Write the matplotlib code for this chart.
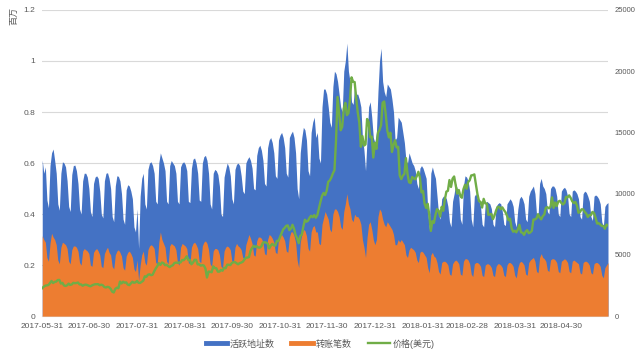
import numpy as np
import pandas as pd
import matplotlib
matplotlib.use("Agg")
import matplotlib.pyplot as plt
from matplotlib.lines import Line2D

plt.rcParams['font.family'] = ['Liberation Sans', 'Noto Sans CJK SC', 'DejaVu Sans']

start_date = "2017-05-31"

# active addresses, thousands per day (one row per week, Wed..Tue)
active_k = [
    612, 560, 585, 455, 425, 590, 640,
    655, 610, 560, 440, 415, 560, 605,
    600, 585, 530, 430, 410, 555, 590,
    592, 570, 520, 420, 400, 530, 560,
    560, 545, 500, 410, 390, 520, 545,
    550, 540, 490, 400, 385, 530, 560,
    562, 540, 500, 390, 370, 510, 550,
    548, 530, 480, 380, 360, 495, 515,
    510, 490, 460, 350, 330, 420, 265,
    470, 540, 560, 440, 420, 575, 600,
    605, 590, 560, 450, 440, 600, 640,
    620, 600, 570, 450, 440, 590, 610,
    600, 590, 560, 450, 440, 585, 600,
    605, 595, 570, 450, 445, 580, 615,
    620, 600, 560, 455, 450, 600, 625,
    630, 610, 560, 440, 420, 560, 575,
    570, 555, 510, 400, 390, 545, 575,
    600, 585, 550, 460, 440, 575, 595,
    600, 590, 550, 490, 480, 600, 615,
    625, 610, 580, 500, 495, 630, 660,
    670, 650, 610, 520, 510, 660, 690,
    700, 680, 640, 550, 540, 690, 710,
    720, 700, 660, 560, 545, 700, 715,
    725, 700, 640, 500, 460, 640, 700,
    740, 730, 690, 570, 550, 720, 760,
    780, 700, 720, 620, 600, 820, 890,
    890, 870, 820, 760, 740, 900, 960,
    950, 920, 870, 820, 800, 960, 1000,
    1070, 960, 920, 840, 830, 900, 870,
    870, 850, 820, 700, 650, 570, 700,
    820, 840, 780, 700, 680, 720, 880,
    1000, 1050, 920, 880, 860, 910, 900,
    890, 850, 800, 690, 700, 780, 770,
    760, 720, 680, 610, 600, 640, 620,
    600, 590, 570, 520, 500, 580, 590,
    580, 560, 540, 420, 340, 560, 585,
    560, 540, 470, 400, 380, 460, 470,
    470, 460, 430, 370, 350, 450, 480,
    520, 500, 470, 380, 360, 510, 550,
    545, 530, 490, 380, 350, 470, 480,
    460, 450, 430, 360, 350, 440, 450,
    445, 440, 420, 360, 350, 430, 440,
    445, 440, 410, 360, 355, 440, 450,
    460, 450, 430, 370, 350, 420, 460,
    470, 460, 440, 380, 370, 470, 490,
    500, 510, 480, 400, 390, 520, 540,
    510, 500, 480, 410, 400, 500, 510,
    510, 500, 470, 400, 390, 490, 500,
    505, 495, 470, 400, 390, 490, 495,
    490, 480, 460, 390, 380, 480, 490,
    485, 470, 450, 390, 375, 470, 475,
    470, 460, 440, 370, 350, 430, 440,
    445,
]

# transfers, thousands per day
transfers_k = [
    315, 300, 290, 230, 215, 285, 325,
    310, 300, 280, 220, 205, 270, 290,
    285, 280, 265, 215, 205, 260, 275,
    275, 270, 255, 210, 200, 255, 265,
    260, 255, 245, 200, 195, 250, 260,
    265, 255, 240, 195, 190, 245, 260,
    270, 250, 240, 195, 185, 240, 255,
    260, 250, 235, 190, 180, 235, 250,
    255, 245, 230, 185, 175, 220, 140,
    200, 240, 255, 210, 200, 260, 275,
    280, 275, 265, 210, 205, 290, 330,
    300, 285, 270, 215, 205, 275, 285,
    280, 275, 260, 210, 200, 270, 285,
    280, 275, 265, 210, 205, 270, 285,
    290, 280, 265, 215, 210, 275, 290,
    295, 285, 260, 205, 195, 255, 265,
    265, 260, 240, 195, 190, 255, 270,
    275, 270, 260, 215, 210, 270, 285,
    275, 270, 260, 230, 225, 280, 300,
    320, 305, 285, 240, 235, 295, 310,
    310, 305, 290, 245, 240, 300, 320,
    315, 305, 290, 250, 245, 300, 315,
    320, 310, 295, 255, 250, 310, 330,
    330, 315, 290, 220, 190, 290, 320,
    340, 335, 315, 265, 255, 330, 350,
    355, 330, 330, 285, 280, 360, 385,
    410, 395, 380, 340, 330, 400, 420,
    420, 410, 390, 350, 340, 410, 440,
    480, 440, 420, 380, 370, 400, 390,
    390, 380, 360, 300, 270, 230, 310,
    360, 370, 340, 300, 280, 300, 390,
    420, 410, 380, 360, 350, 370, 360,
    350, 340, 320, 280, 280, 300, 290,
    300, 290, 280, 240, 230, 260, 270,
    265, 260, 250, 220, 210, 250, 255,
    250, 240, 230, 190, 170, 240, 250,
    235, 230, 210, 175, 165, 210, 215,
    215, 210, 200, 165, 160, 205, 215,
    220, 215, 205, 165, 160, 215, 225,
    225, 220, 205, 165, 155, 205, 210,
    210, 205, 195, 160, 155, 200, 205,
    205, 200, 190, 160, 155, 195, 205,
    205, 200, 190, 160, 155, 200, 210,
    210, 205, 195, 160, 150, 190, 210,
    215, 210, 200, 165, 160, 210, 220,
    225, 230, 215, 175, 170, 230, 245,
    230, 225, 215, 180, 175, 220, 225,
    225, 220, 210, 175, 170, 215, 220,
    225, 220, 210, 175, 170, 215, 220,
    215, 210, 205, 170, 165, 210, 215,
    215, 210, 200, 170, 165, 205, 210,
    210, 205, 195, 160, 150, 190, 200,
    210,
]

# price in USD, one row per month
price_usd = [
    2286,
    2407, 2488, 2516, 2540, 2700, 2870, 2700, 2795, 2823, 2947, 2959, 2659, 2717, 2506, 2464,
    2518, 2655, 2548, 2589, 2721, 2689, 2705, 2745, 2589, 2589, 2478, 2553, 2575, 2539, 2481,
    2434, 2507, 2565, 2601, 2601, 2608, 2518, 2571, 2518, 2372, 2337, 2398, 2357, 2233, 1998, 1929,
    2228, 2318, 2273, 2817, 2667, 2810, 2730, 2754, 2576, 2529, 2671, 2809, 2726, 2757, 2875,
    2718, 2710, 2804, 2895, 3252, 3213, 3378, 3419, 3342, 3381, 3650, 3884, 4073, 4325, 4182, 4376,
    4331, 4160, 4193, 4087, 4001, 4100, 4151, 4334, 4371, 4352, 4382, 4382, 4579, 4565, 4703,
    4892, 4578, 4582, 4236, 4376, 4597, 4599, 4228, 4226, 4122, 4161, 4130, 3882, 3154, 3637,
    3625, 3582, 4065, 3924, 3906, 3631, 3631, 3776, 3703, 3942, 3910, 4202, 4194, 4165, 4338,
    4403, 4409, 4317, 4230, 4329, 4371, 4436, 4611, 4773, 4782, 4819, 5325, 5564, 5740, 5647, 5711,
    5603, 5590, 5708, 6011, 6031, 6008, 5930, 5527, 5750, 5904, 5780, 5753, 6153, 6130, 6468,
    6767, 7078, 7207, 7379, 7407, 7022, 7144, 7459, 7143, 6618, 6357, 5950, 6559, 6635, 7315,
    7871, 7708, 7790, 8036, 8200, 8071, 8253, 8038, 8253, 8790, 9330, 9818, 10058, 9888, 10233,
    10975, 11074, 11323, 11657, 11916, 14291, 17899, 16569, 15178, 15455, 16936, 17415, 16408, 16564, 17706, 19497,
    19140, 19114, 17776, 16624, 15802, 13831, 14699, 13925, 14026, 16099, 15838, 14606, 14656, 12952, 14156,
    13657, 14982, 15201, 15599, 17429, 17527, 16477, 15170, 14595, 14973, 13405, 13980, 14360, 13772, 13819, 11490,
    11188, 11474, 11607, 12899, 11600, 10931, 10868, 11359, 11259, 11171, 11441, 11787, 11306, 10106, 10221,
    9170, 8830, 9174, 8277, 6955, 7754, 7621, 8265, 8736, 8621, 8129, 8926, 8598, 9494,
    10166, 10233, 11112, 10551, 11225, 11403, 10690, 10005, 10301, 9813, 9664, 10366, 10725, 10397,
    10951, 11086, 11489, 11512, 11573, 10780, 9965, 9395, 9337, 8866, 9578, 9205, 9194, 8269, 8300, 8338,
    7917, 8223, 8630, 8913, 8929, 8729, 8880, 8668, 8495, 8209, 7834, 7954, 7165, 6891, 6973,
    6845, 7083, 7456, 6853, 6811, 6637, 6911, 7023, 6770, 6835, 6968, 7889, 7895, 7986, 8329,
    8058, 7902, 8163, 8294, 8845, 8895, 8802, 8930, 9697, 8845, 9281, 8987, 9348, 9419, 9240,
    9119, 9235, 9744, 9700, 9859, 9654, 9373, 9235, 9325, 9043, 8441, 8504, 8723, 8716, 8510,
    8368, 8095, 8250, 8248, 8513, 8419, 8041, 7557, 7587, 7480, 7355, 7368, 7135, 7472, 7406,
]

tick_dates = ["2017-05-31", "2017-06-30", "2017-07-31", "2017-08-31", "2017-09-30",
              "2017-10-31", "2017-11-30", "2017-12-31", "2018-01-31", "2018-02-28",
              "2018-03-31", "2018-04-30"]
labels = ["活跃地址数", "转账笔数", "价格(美元)"]

dates = pd.date_range(start_date, periods=len(active_k))
active = np.array(active_k) / 1000.0
transfers = np.array(transfers_k) / 1000.0

BLUE = "#4472C4"
ORANGE = "#ED7D31"
GREEN = "#70AD47"
GREY = "#595959"

fig = plt.figure(figsize=(6.4, 3.56), dpi=100)
ax = fig.add_axes([0.066, 0.112, 0.884, 0.86])
ax.fill_between(dates, 0, active, color=BLUE, lw=0, zorder=2)
ax.fill_between(dates, 0, transfers, color=ORANGE, lw=0, zorder=3)
ax.set_ylim(0, 1.2)
ax.set_yticks([0, 0.2, 0.4, 0.6, 0.8, 1.0, 1.2])
ax.set_yticklabels(["0", "0.2", "0.4", "0.6", "0.8", "1", "1.2"])
ax.set_xlim(dates[0], dates[-1])
ax.set_xticks(pd.to_datetime(tick_dates))
ax.set_xticklabels(tick_dates)
ax.grid(axis="y", color="#D9D9D9", lw=0.8, zorder=0)
ax.set_axisbelow(True)
for s in ["top", "right", "left"]:
    ax.spines[s].set_visible(False)
ax.spines["bottom"].set_color("#D9D9D9")
ax.tick_params(length=0, labelsize=6, labelcolor=GREY, pad=5)

ax2 = ax.twinx()
ax2.plot(dates, price_usd, color=GREEN, lw=1.7, zorder=4)
ax2.set_ylim(0, 25000)
ax2.set_yticks([0, 5000, 10000, 15000, 20000, 25000])
for s in ["top", "right", "left", "bottom"]:
    ax2.spines[s].set_visible(False)
ax2.tick_params(length=0, labelsize=5.5, labelcolor=GREY, pad=5)

fig.text(0.022, 0.955, "百万", rotation=90, fontsize=6.5, color=GREY, ha="center", va="center")

handles = [Line2D([], [], color=BLUE, lw=3.5),
           Line2D([], [], color=ORANGE, lw=3.5),
           Line2D([], [], color=GREEN, lw=1.7)]
fig.legend(handles, labels, loc="center", bbox_to_anchor=(0.5, 0.035), ncol=3,
           frameon=False, fontsize=6.5, labelcolor=GREY, handlelength=2.4,
           handletextpad=0.3, columnspacing=1.8)

fig.savefig("out.png", dpi=100)
